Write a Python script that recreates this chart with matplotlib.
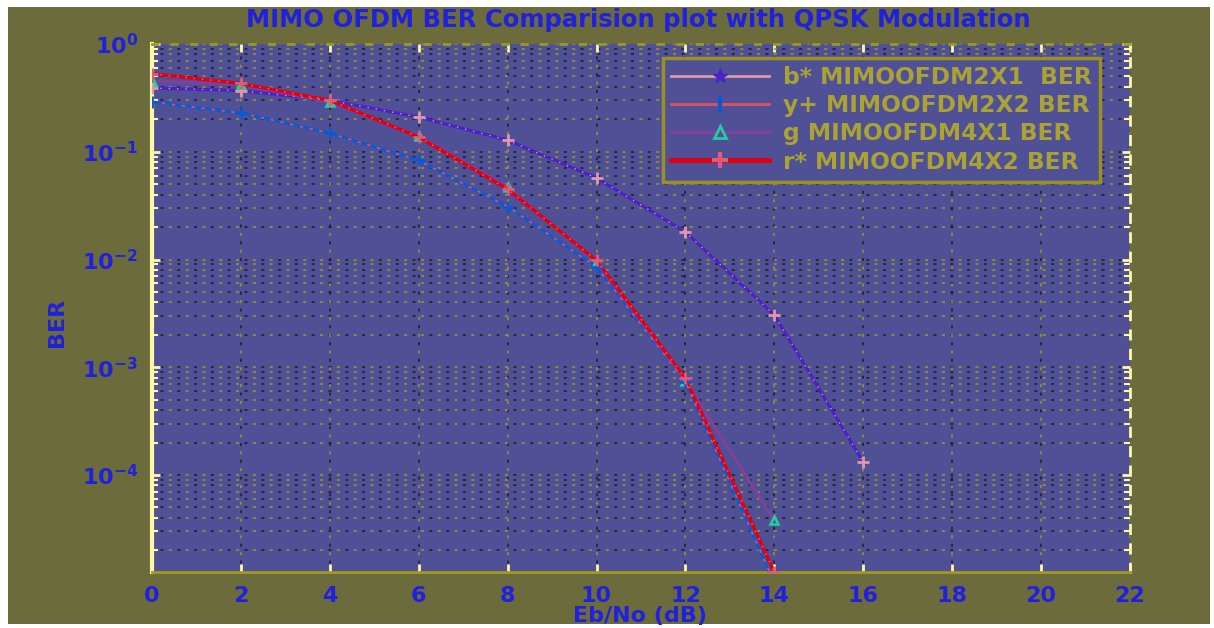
import matplotlib
matplotlib.use('Agg')
import matplotlib.pyplot as plt
from matplotlib.lines import Line2D
from matplotlib.patches import Rectangle
from matplotlib.ticker import LogLocator, NullFormatter, FixedLocator

# ---- data ----
snr_2x1 = [0, 2, 4, 6, 8, 10, 12, 14, 16]
ber_2x1 = [0.39, 0.37, 0.30, 0.21, 0.128, 0.057, 0.018, 3.05e-3, 1.32e-4]

snr_2x2 = [0, 2, 4, 6, 8, 10, 12, 14]
ber_2x2 = [0.29, 0.229, 0.149, 0.083, 0.031, 0.0085, 7.3e-4, 1.0e-5]

snr_4x1 = [0, 2, 4, 6, 8, 10, 12, 14]
ber_4x1 = [0.45, 0.42, 0.29, 0.14, 0.047, 0.0095, 7.5e-4, 3.8e-5]

snr_4x2 = [0, 2, 4, 6, 8, 10, 12, 14]
ber_4x2 = [0.53, 0.43, 0.30, 0.137, 0.045, 0.0098, 7.9e-4, 1.25e-5]

labels = ["b* MIMOOFDM2X1  BER", "y+ MIMOOFDM2X2 BER",
          "g MIMOOFDM4X1 BER", "r* MIMOOFDM4X2 BER"]
x_ticks = [0, 2, 4, 6, 8, 10, 12, 14, 16, 18, 20, 22]
title = "MIMO OFDM BER Comparision plot with QPSK Modulation"
xlabel = "Eb/No (dB)"
ylabel = "BER"

# ---- style ----
OLIVE = '#6b6b3b'
AXBG = '#505096'
BLUE = '#2020dd'
GRID_Y = '#9c9828'
GRID_D = '#1e1e22'
LEG_TXT = '#aaa232'

fig = plt.figure(figsize=(12.14, 6.28), dpi=100, facecolor='white')
fig.patches.append(Rectangle((8 / 1214, 4 / 628), 1202 / 1214, 617 / 628,
                             transform=fig.transFigure, facecolor=OLIVE,
                             edgecolor='none', zorder=-10))

ax = fig.add_axes([152 / 1214, 1 - 572 / 628, 978 / 1214, 528 / 628])
ax.set_facecolor(AXBG)
ax.set_yscale('log')
ax.set_xlim(0, 22)
ax.set_ylim(1.26e-5, 1.0)

ax.xaxis.set_major_locator(FixedLocator(x_ticks))
ax.yaxis.set_major_locator(LogLocator(base=10, numticks=10))
ax.yaxis.set_minor_locator(LogLocator(base=10, subs=range(2, 10), numticks=20))
ax.yaxis.set_minor_formatter(NullFormatter())

# two-colour dotted grid
ax.grid(True, which='both', axis='both', color=GRID_Y,
        linestyle=(0, (2, 9)), linewidth=1.1, zorder=0)
ax.set_axisbelow(True)
yl = ax.get_ylim()
for yv in list(ax.get_yticks()) + list(ax.get_yticks(minor=True)):
    if yl[0] < yv < yl[1]:
        ax.axhline(yv, color=GRID_D, linestyle=(5.5, (2, 9)), linewidth=1.1, zorder=0.5)
for xv in ax.get_xticks():
    if 0 < xv < 22:
        ax.axvline(xv, color=GRID_D, linestyle=(5.5, (2, 9)), linewidth=1.1, zorder=0.5)

# ---- series ----
ax.plot(snr_2x1, ber_2x1, color='#4b22c6', linewidth=2.2, zorder=3)
ax.plot(snr_2x1, ber_2x1, color='#e098a8', linewidth=1.0, linestyle=(0, (1, 5)),
        marker='+', markersize=8, markeredgewidth=2, markeredgecolor='#e098a8', zorder=4)

ax.plot(snr_2x2, ber_2x2, color='#1058d0', linewidth=2.2, zorder=3)
ax.plot(snr_2x2, ber_2x2, color='#e05068', linewidth=1.2, linestyle=(0, (2, 4)),
        marker='+', markersize=8, markeredgewidth=2, markeredgecolor='#1058d0', zorder=4)

ax.plot(snr_4x1, ber_4x1, color='#80409c', linewidth=2.2, zorder=3,
        marker='^', markersize=6, markerfacecolor='none', markeredgecolor='#20d0a0',
        markeredgewidth=1.8)

ax.plot(snr_4x2, ber_4x2, color='#e00010', linewidth=2.4, zorder=3.5)
ax.plot(snr_4x2, ber_4x2, color='#e05a78', linewidth=1.2, linestyle=(0, (1, 4)),
        marker='+', markersize=8, markeredgewidth=2, markeredgecolor='#e05a78', zorder=4)

# ---- legend ----
handles = [
    Line2D([], [], color='#e098a8', linewidth=2, marker='*', markersize=11,
           markerfacecolor='#4b22c6', markeredgecolor='#4b22c6'),
    Line2D([], [], color='#e05060', linewidth=2, marker='|', markersize=12,
           markeredgewidth=3, markeredgecolor='#1058d0'),
    Line2D([], [], color='#80409c', linewidth=2.5, marker='^', markersize=8,
           markerfacecolor='none', markeredgecolor='#20d0a0', markeredgewidth=2),
    Line2D([], [], color='#e00010', linewidth=3.5, marker='+', markersize=11,
           markeredgewidth=3, markeredgecolor='#e05a78'),
]
leg = ax.legend(handles, labels, loc='upper left',
                bbox_to_anchor=((663 - 152) / 978, (572 - 58) / 528),
                borderaxespad=0, frameon=True, fancybox=False,
                handlelength=4.2, handletextpad=0.6, labelspacing=0.22,
                borderpad=0.35,
                prop={'family': 'DejaVu Sans', 'weight': 'bold', 'size': 16.8})
leg.get_frame().set_facecolor(AXBG)
leg.get_frame().set_edgecolor('#9a9020')
leg.get_frame().set_linewidth(2.5)
leg.get_frame().set_alpha(1)
for t in leg.get_texts():
    t.set_color(LEG_TXT)
leg.set_zorder(10)

# ---- spines / ticks ----
ax.spines['left'].set_color('#fff8a8')
ax.spines['left'].set_linewidth(3)
ax.spines['bottom'].set_color('#a09a20')
ax.spines['bottom'].set_linewidth(2)
ax.spines['right'].set_color('#fff8a8')
ax.spines['right'].set_linewidth(2)
ax.spines['right'].set_linestyle((0, (3, 4)))
ax.spines['top'].set_color('#9c9828')
ax.spines['top'].set_linewidth(2)
ax.spines['top'].set_linestyle((0, (2, 5)))

ax.tick_params(axis='both', which='both', direction='in', color='#fff8a8')
ax.tick_params(axis='both', which='major', length=6, width=2,
               labelsize=16, labelcolor=BLUE, pad=10)
ax.tick_params(axis='y', which='minor', length=4, width=1.5, right=True)
ax.tick_params(axis='y', which='major', right=True)
ax.tick_params(axis='x', which='major', top=True)
for lbl in ax.get_xticklabels() + ax.get_yticklabels():
    lbl.set_fontweight('bold')

fig.text(638 / 1214, 1 - 20 / 628, title, ha='center', va='center',
         color=BLUE, fontsize=17.5, fontweight='bold')
fig.text(640 / 1214, 1 - 616 / 628, xlabel, ha='center', va='center',
         color=BLUE, fontsize=16, fontweight='bold')
fig.text(57 / 1214, 1 - 322 / 628, ylabel, ha='center', va='center',
         rotation=90, color=BLUE, fontsize=16, fontweight='bold')

fig.savefig('out.png', dpi=100, facecolor='white')
